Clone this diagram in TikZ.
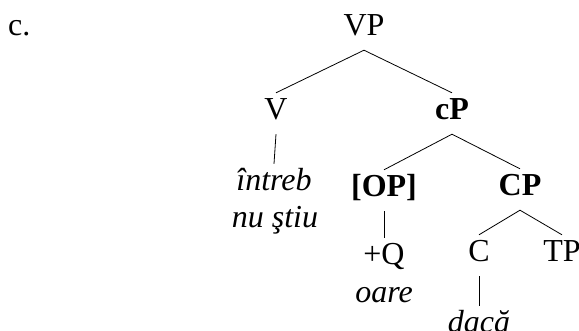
\documentclass[tikz,border=0pt]{standalone}
\usepackage{fontspec}
\setmainfont{Liberation Serif}
\begin{document}
\begin{tikzpicture}[x=1pt,y=-1pt,
  lab/.style={anchor=base,inner sep=0pt,text height=27pt,text depth=14pt,font=\fontsize{32}{38}\selectfont},
  labb/.style={lab,font=\fontsize{32}{38}\selectfont\bfseries},
  labi/.style={lab,font=\fontsize{32}{38}\selectfont\itshape},
  edge/.style={draw,line width=0.8pt}]
\useasboundingbox (0,0) rectangle (579,331);
\node[lab,anchor=base west] (ex) at (8,36) {c.};
\node[lab] (VP) at (364,36) {VP};
\node[lab] (V) at (276,120) {V};
\node[labb] (cP) at (452,120) {cP};
\node[labi] (intreb) at (274,191) {întreb};
\node[labi] (nustiu) at (275,228) {nu ştiu};
\node[labb] (OP) at (384,197) {[OP]};
\node[labb] (CP) at (520,196) {CP};
\node[lab] (Q) at (384,265) {+Q};
\node[labi] (oare) at (384,303) {oare};
\node[lab] (C) at (479,262) {C};
\node[lab] (TP) at (562,262) {TP};
\node[labi] (daca) at (479,333) {dacă};
\draw[edge] (V.north) -- (VP.south) -- (cP.north);
\draw[edge] (V.south) -- (intreb.north);
\draw[edge] (OP.north) -- (cP.south) -- (CP.north);
\draw[edge] (OP.south) -- (Q.north);
\draw[edge] (C.north) -- (CP.south) -- (TP.north);
\draw[edge] (C.south) -- (daca.north);
\end{tikzpicture}
\end{document}
